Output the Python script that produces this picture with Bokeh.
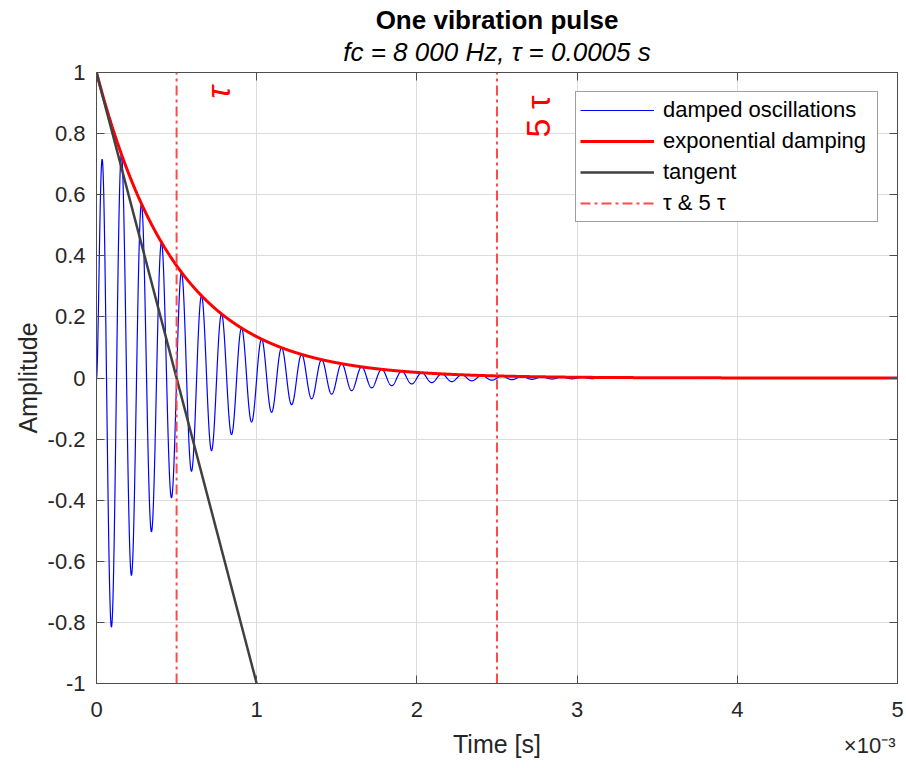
import numpy as np
from bokeh.plotting import figure
from bokeh.models import (Range1d, FixedTicker, CustomJSTickFormatter, LinearAxis, Label, Title)
from bokeh.embed import file_html
from bokeh.resources import INLINE

# ---- data ----
fc = 8000.0            # carrier frequency (Hz), from subtitle
tau = 0.0005           # time constant (s), from subtitle
attack = 2.3e-5        # short onset (s), estimated from the low first peak
t_end = 0.005          # end of time axis (s)
n_samples = 5001
tau_marks = [tau, 5 * tau]          # vertical markers: tau & 5 tau
tangent_t = [0.0, 0.001]            # tangent at t=0 reaches -1 at 2 tau
tangent_y = [1.0, -1.0]
time_ticks = [0, 0.001, 0.002, 0.003, 0.004, 0.005]
amp_ticks = [-1, -0.8, -0.6, -0.4, -0.2, 0, 0.2, 0.4, 0.6, 0.8, 1]

t = np.linspace(0, t_end, n_samples)
envelope = np.exp(-t / tau)
signal = (1 - np.exp(-t / attack)) * envelope * np.sin(2 * np.pi * fc * t)

FONT = "Liberation Sans"
AXC = "#4d4d4d"
TXT = "#262626"

W, H = 904, 768
p = figure(width=W, height=H, output_backend="svg", toolbar_location=None,
           x_range=Range1d(0, t_end), y_range=Range1d(-1, 1),
           min_border_left=96, min_border_right=7, min_border_top=72,
           min_border_bottom=85, background_fill_color="white",
           border_fill_color="white")
p.outline_line_color = AXC
p.outline_line_width = 1

xt = FixedTicker(ticks=time_ticks, minor_ticks=[])
yt = FixedTicker(ticks=amp_ticks, minor_ticks=[])
xfmt = CustomJSTickFormatter(code="return (tick*1000).toFixed(0);")
yfmt = CustomJSTickFormatter(code="return Number(tick.toFixed(1)).toString();")

for ax in p.xaxis:
    ax.ticker = xt
    ax.formatter = xfmt
    ax.axis_label = "Time [s]"
    ax.major_label_standoff = 18
    ax.axis_label_standoff = 10
for ax in p.yaxis:
    ax.ticker = yt
    ax.formatter = yfmt
    ax.axis_label = "Amplitude"
    ax.major_label_standoff = 11
    ax.axis_label_standoff = 3

for ax in list(p.xaxis) + list(p.yaxis):
    ax.axis_line_color = AXC
    ax.major_tick_line_color = AXC
    ax.major_tick_in = 8
    ax.major_tick_out = 0
    ax.minor_tick_line_color = None
    ax.major_label_text_font = FONT
    ax.major_label_text_font_size = "22px"
    ax.major_label_text_color = TXT
    ax.axis_label_text_font = FONT
    ax.axis_label_text_font_size = "25px"
    ax.axis_label_text_font_style = "normal"
    ax.axis_label_text_color = TXT

blank = CustomJSTickFormatter(code="return '';")
top_ax = LinearAxis(ticker=xt, formatter=blank, major_tick_in=8, major_tick_out=0,
                    major_label_standoff=0, axis_line_color=AXC,
                    major_tick_line_color=AXC, minor_tick_line_color=None,
                    major_label_text_font_size="1px")
right_ax = LinearAxis(ticker=yt, formatter=blank, major_tick_in=8, major_tick_out=0,
                      major_label_standoff=0, axis_line_color=AXC,
                      major_tick_line_color=AXC, minor_tick_line_color=None,
                      major_label_text_font_size="1px")
p.add_layout(top_ax, "above")
p.add_layout(right_ax, "right")

# titles (subtitle first: it sits closest to the plot)
p.add_layout(Title(text="fc = 8 000 Hz, \u03c4 = 0.0005 s", align="center",
                   text_font=FONT, text_font_size="26px", text_font_style="italic",
                   text_color="#000000", standoff=11), "above")
p.add_layout(Title(text="One vibration pulse", align="center",
                   text_font=FONT, text_font_size="26px", text_font_style="bold",
                   text_color="#000000", standoff=-11), "above")
# axis exponent
p.add_layout(Title(text="\u00d710\u207b\u00b3", align="right", vertical_align="top",
                   text_font=FONT, text_font_size="22px", text_font_style="normal",
                   text_color=TXT, standoff=-56, offset=2), "below")

p.xgrid.grid_line_color = "#dcdcdc"
p.ygrid.grid_line_color = "#dcdcdc"
p.xgrid.grid_line_width = 1
p.ygrid.grid_line_width = 1

p.line(t, signal, line_color="#0000ff", line_width=1.2, legend_label="damped oscillations")
p.line(t, envelope, line_color="#ff0000", line_width=3, legend_label="exponential damping")
p.line(tangent_t, tangent_y, line_color="#404040", line_width=2.5, legend_label="tangent")
p.segment(x0=tau_marks, y0=[-1] * len(tau_marks), x1=tau_marks, y1=[1] * len(tau_marks),
          line_color="#ff4a4a", line_width=2, line_dash="10 4 3 4",
          legend_label="\u03c4 & 5 \u03c4")

# page-pixel -> data helpers (frame: x 96..897, y 72..683)
def dx(px):
    return (px - 96) / 160.0 * 1e-3

def dy(py):
    return (377.5 - py) / 305.5

p.add_layout(Label(x=dx(217), y=dy(92), text="\u03c4", angle=np.pi / 2,
                   text_align="center", text_baseline="middle", text_color="#ff0000",
                   text_font=FONT, text_font_size="34px", text_font_style="italic"))
p.add_layout(Label(x=dx(537), y=dy(116), text="5 \u03c4", angle=np.pi / 2,
                   text_align="center", text_baseline="middle", text_color="#ff0000",
                   text_font=FONT, text_font_size="34px"))

lg = p.legend[0]
lg.location = "top_right"
lg.margin = 19
lg.border_line_color = "#404040"
lg.border_line_width = 1
lg.background_fill_color = "white"
lg.background_fill_alpha = 1
lg.label_text_font = FONT
lg.label_text_font_size = "22px"
lg.label_text_color = "#000000"
lg.glyph_width = 74
lg.glyph_height = 28
lg.label_height = 28
lg.label_width = 210
lg.label_standoff = 9
lg.padding = 4
lg.spacing = 3

open("out.html", "w").write(file_html(p, INLINE))
